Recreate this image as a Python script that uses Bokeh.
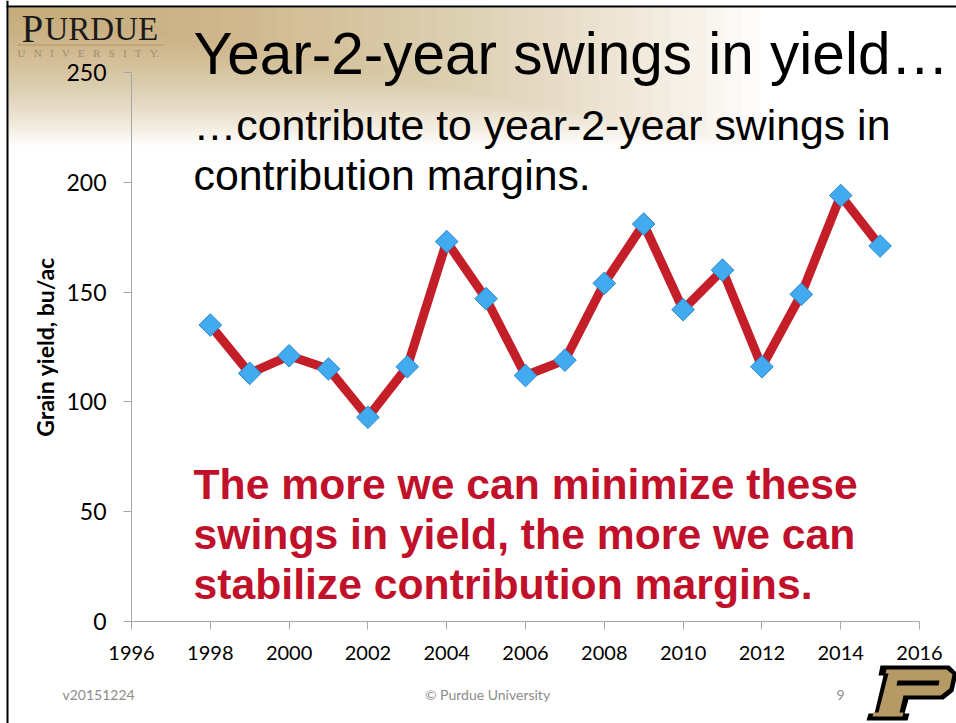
import numpy as np
from bokeh.plotting import figure
from bokeh.models import Label, BoxAnnotation, PolyAnnotation, FixedTicker, Range1d
from bokeh.embed import file_html
from bokeh.resources import INLINE

# ---- data ----
years = [1998, 1999, 2000, 2001, 2002, 2003, 2004, 2005, 2006, 2007,
         2008, 2009, 2010, 2011, 2012, 2013, 2014, 2015]
yields = [135, 113, 121, 115, 93, 116, 173, 147, 112, 119,
          154, 181, 142, 160, 116, 149, 194, 171]
x_ticks = [1996, 1998, 2000, 2002, 2004, 2006, 2008, 2010, 2012, 2014, 2016]
y_ticks = [0, 50, 100, 150, 200, 250]

title_text = "Year-2-year swings in yield…"
subtitle_lines = ["…contribute to year-2-year swings in", "contribution margins."]
red_lines = ["The more we can minimize these",
             "swings in yield, the more we can",
             "stabilize contribution margins."]
y_label = "Grain yield, bu/ac"
footer_left = "v20151224"
footer_mid = "© Purdue University"
footer_page = "9"

# ---- layout: the frame covers the whole page; axes are pinned in place ----
W, H = 956, 723
AX_L, AX_R, AX_T, AX_B = 131, 919, 72, 621      # pixel box of the chart axes
x0, x1 = x_ticks[0], x_ticks[-1]
y0, y1 = y_ticks[0], y_ticks[-1]
kx = (x1 - x0) / (AX_R - AX_L)
ky = (y1 - y0) / (AX_B - AX_T)
x_range = Range1d(x0 - AX_L * kx, x1 + (W - AX_R) * kx)
y_range = Range1d(y0 - (H - AX_B) * ky, y1 + AX_T * ky)

p = figure(width=W, height=H, x_range=x_range, y_range=y_range,
           output_backend="svg", toolbar_location=None, min_border=0)
p.outline_line_color = None
p.grid.visible = False
p.background_fill_color = "white"
p.border_fill_color = "white"


def canvas_box(l, r, t, b, color, alpha=1.0, level="annotation"):
    p.add_layout(BoxAnnotation(left=l, right=r, top=t, bottom=b,
                               left_units="canvas", right_units="canvas",
                               top_units="canvas", bottom_units="canvas",
                               fill_color=color, fill_alpha=alpha,
                               line_color=None, level=level))


# gold gradient top-left (stacked translucent boxes)
n = 40
for i in range(n):
    r = 60 + i * (760 - 60) / (n - 1)
    b = 16 + i * (145 - 16) / (n - 1)
    canvas_box(8, r, 7, b, "#a8843a", 0.026, level="underlay")

# slide borders
canvas_box(6, 8, 0, H, "black")
canvas_box(6, W, 5, 7, "black")

# data
p.line(years, yields, line_color="#c41f28", line_width=9, line_join="round")
p.scatter(years, yields, marker="square", size=16, angle=np.pi / 4,
          fill_color="#42aaee", line_color="#2a8ad0", line_width=1)

# axes
for ax in (p.xaxis[0], p.yaxis[0]):
    ax.axis_line_color = "#a6a6a6"
    ax.major_tick_line_color = "#a6a6a6"
    ax.minor_tick_line_color = None
    ax.major_tick_in = 0
    ax.major_tick_out = 8
    ax.major_label_text_font = "Lato"
    ax.major_label_text_color = "black"

p.xaxis.fixed_location = y0
p.xaxis.bounds = (x0, x1)
p.xaxis.ticker = FixedTicker(ticks=x_ticks)
p.xaxis.major_label_text_font_size = "20px"
p.xaxis.major_label_standoff = 16

p.yaxis.fixed_location = x0
p.yaxis.bounds = (y0, y1)
p.yaxis.ticker = FixedTicker(ticks=y_ticks)
p.yaxis.major_label_text_font_size = "23px"
p.yaxis.major_label_standoff = 17
p.yaxis.axis_label = y_label
p.yaxis.axis_label_text_font = "Lato"
p.yaxis.axis_label_text_font_style = "bold"
p.yaxis.axis_label_text_font_size = "23px"
p.yaxis.axis_label_text_color = "black"
p.yaxis.axis_label_standoff = 4


def lab(x, y, text, font="Liberation Sans", size="20px", color="black",
        style="normal", align="left"):
    p.add_layout(Label(x=x, y=y, x_units="canvas", y_units="canvas",
                       text=text, text_font=font, text_font_size=size,
                       text_color=color, text_font_style=style,
                       text_align=align, text_baseline="alphabetic"))


# title + subtitle
lab(193, 53, title_text, size="58.5px")
for i, t in enumerate(subtitle_lines):
    lab(193, 124 + i * 50, t, size="42.8px")

# red message
for i, t in enumerate(red_lines):
    lab(193, 483 + i * 50, t, size="42.7px", color="#c0102a", style="bold")

# footer
lab(62, 694, footer_left, font="Lato", size="14px", color="#8c8c8c")
lab(487, 694, footer_mid, font="Lato", size="14px", color="#8c8c8c", align="center")
lab(840, 694, footer_page, font="Lato", size="14px", color="#8c8c8c", align="center")

# Purdue wordmark
lab(21, 28, "P", font="Liberation Serif", size="39px", color="#1a1a1a")
lab(44, 28, "URDUE", font="Liberation Serif", size="33px", color="#1a1a1a")
canvas_box(17, 163, 44, 45, "#a89060", 0.8)
sp = "\u00a0\u00a0\u00a0"
lab(17, 52, sp.join("UNIVERSIT") + sp + "Y.",
    font="Liberation Serif", size="11px", color="#9d8f74")

# Purdue block P logo
outer_x = [880, 949, 957, 953, 943, 908, 904, 909, 907, 866, 868, 874, 883, 878]
outer_y = [665, 665, 673, 691, 699, 699, 713, 713, 720, 720, 713, 713, 675, 675]
inner_x = [886, 946, 952, 949, 940, 903, 899, 903, 902, 872, 873, 878, 888, 885]
inner_y = [669, 669, 674, 688, 695, 695, 712, 712, 716, 716, 712, 712, 673, 673]
hole_x = [897, 939, 938, 896]
hole_y = [680, 680, 685, 685]
for xs, ys, c in ((outer_x, outer_y, "black"), (inner_x, inner_y, "#b59a66"),
                  (hole_x, hole_y, "black")):
    p.add_layout(PolyAnnotation(xs=xs, ys=ys, xs_units="canvas", ys_units="canvas",
                                fill_color=c, fill_alpha=1, line_color=None))

open("out.html", "w").write(file_html(p, INLINE))
